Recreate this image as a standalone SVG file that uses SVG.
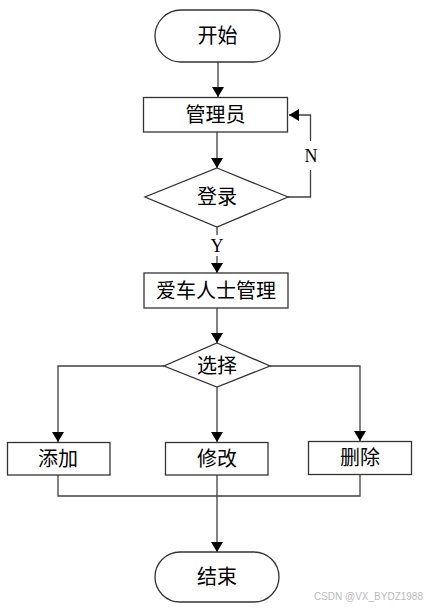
<svg xmlns="http://www.w3.org/2000/svg" width="426" height="611" viewBox="0 0 426 611">
<style>
.s{fill:#fff;stroke:#333;stroke-width:1.3}
.t{font-family:"Liberation Serif","Noto Sans CJK SC",serif;font-size:20px;fill:#000;text-anchor:middle;dominant-baseline:central}
.c{fill:none;stroke:#404040;stroke-width:1.3}
.lb{font-family:"Liberation Serif",serif;font-size:18px;fill:#000;text-anchor:middle;dominant-baseline:central}
</style>
<defs>
<marker id="a" viewBox="0 0 10 12" refX="10" refY="6" markerWidth="10" markerHeight="12" markerUnits="userSpaceOnUse" orient="auto">
<path d="M0,0 L10,6 L0,12 Z" fill="#000"/>
</marker>
</defs>
<rect width="426" height="611" fill="#fff"/>
<g id="connectors">
<path class="c" d="M218,62 V97" marker-end="url(#a)"/>
<path class="c" d="M217,132 V168" marker-end="url(#a)"/>
<path class="c" d="M288,197 H310.5 V170 M310.5,141 V115 H289" marker-end="url(#a)"/>
<path class="c" d="M217,227 V235 M217,256 V273" marker-end="url(#a)"/>
<path class="c" d="M217,308 V343" marker-end="url(#a)"/>
<path class="c" d="M164,366 H58 V442" marker-end="url(#a)"/>
<path class="c" d="M217,387 V442" marker-end="url(#a)"/>
<path class="c" d="M270,366 H360 V441" marker-end="url(#a)"/>
<path class="c" d="M58,475 V496 H360 V475"/>
<path class="c" d="M217,475 V552" stroke="#000" stroke-width="2" marker-end="url(#a)"/>
<text class="lb" x="311" y="156">N</text>
<text class="lb" x="217" y="246">Y</text>
</g>
<g id="start"><rect class="s" x="155" y="10" width="125" height="52" rx="26"/><text class="t" x="217.5" y="36">开始</text></g>
<g id="admin"><rect class="s" x="143.5" y="97.5" width="144" height="34.5"/><text class="t" x="215.5" y="115">管理员</text></g>
<g id="login"><polygon class="s" points="217,168 288,197 217,227 145,197"/><text class="t" x="217" y="197">登录</text></g>
<g id="manage"><rect class="s" x="144" y="273" width="144" height="35"/><text class="t" x="216" y="291">爱车人士管理</text></g>
<g id="select"><polygon class="s" points="217,343 270,366 217,387 164,366"/><text class="t" x="217" y="366">选择</text></g>
<g id="add"><rect class="s" x="7.5" y="442.5" width="102.5" height="32.5"/><text class="t" x="58" y="459">添加</text></g>
<g id="edit"><rect class="s" x="165.5" y="442.5" width="102.5" height="32.5"/><text class="t" x="217" y="459">修改</text></g>
<g id="delete"><rect class="s" x="308.5" y="441.5" width="103" height="33"/><text class="t" x="360" y="458">删除</text></g>
<g id="end"><rect class="s" x="155" y="552" width="124" height="50" rx="25"/><text class="t" x="217" y="577">结束</text></g>
<text x="423" y="600" font-family="Liberation Sans,Arial,sans-serif" font-size="10" fill="#bbb" text-anchor="end">CSDN @VX_BYDZ1988</text>
</svg>
